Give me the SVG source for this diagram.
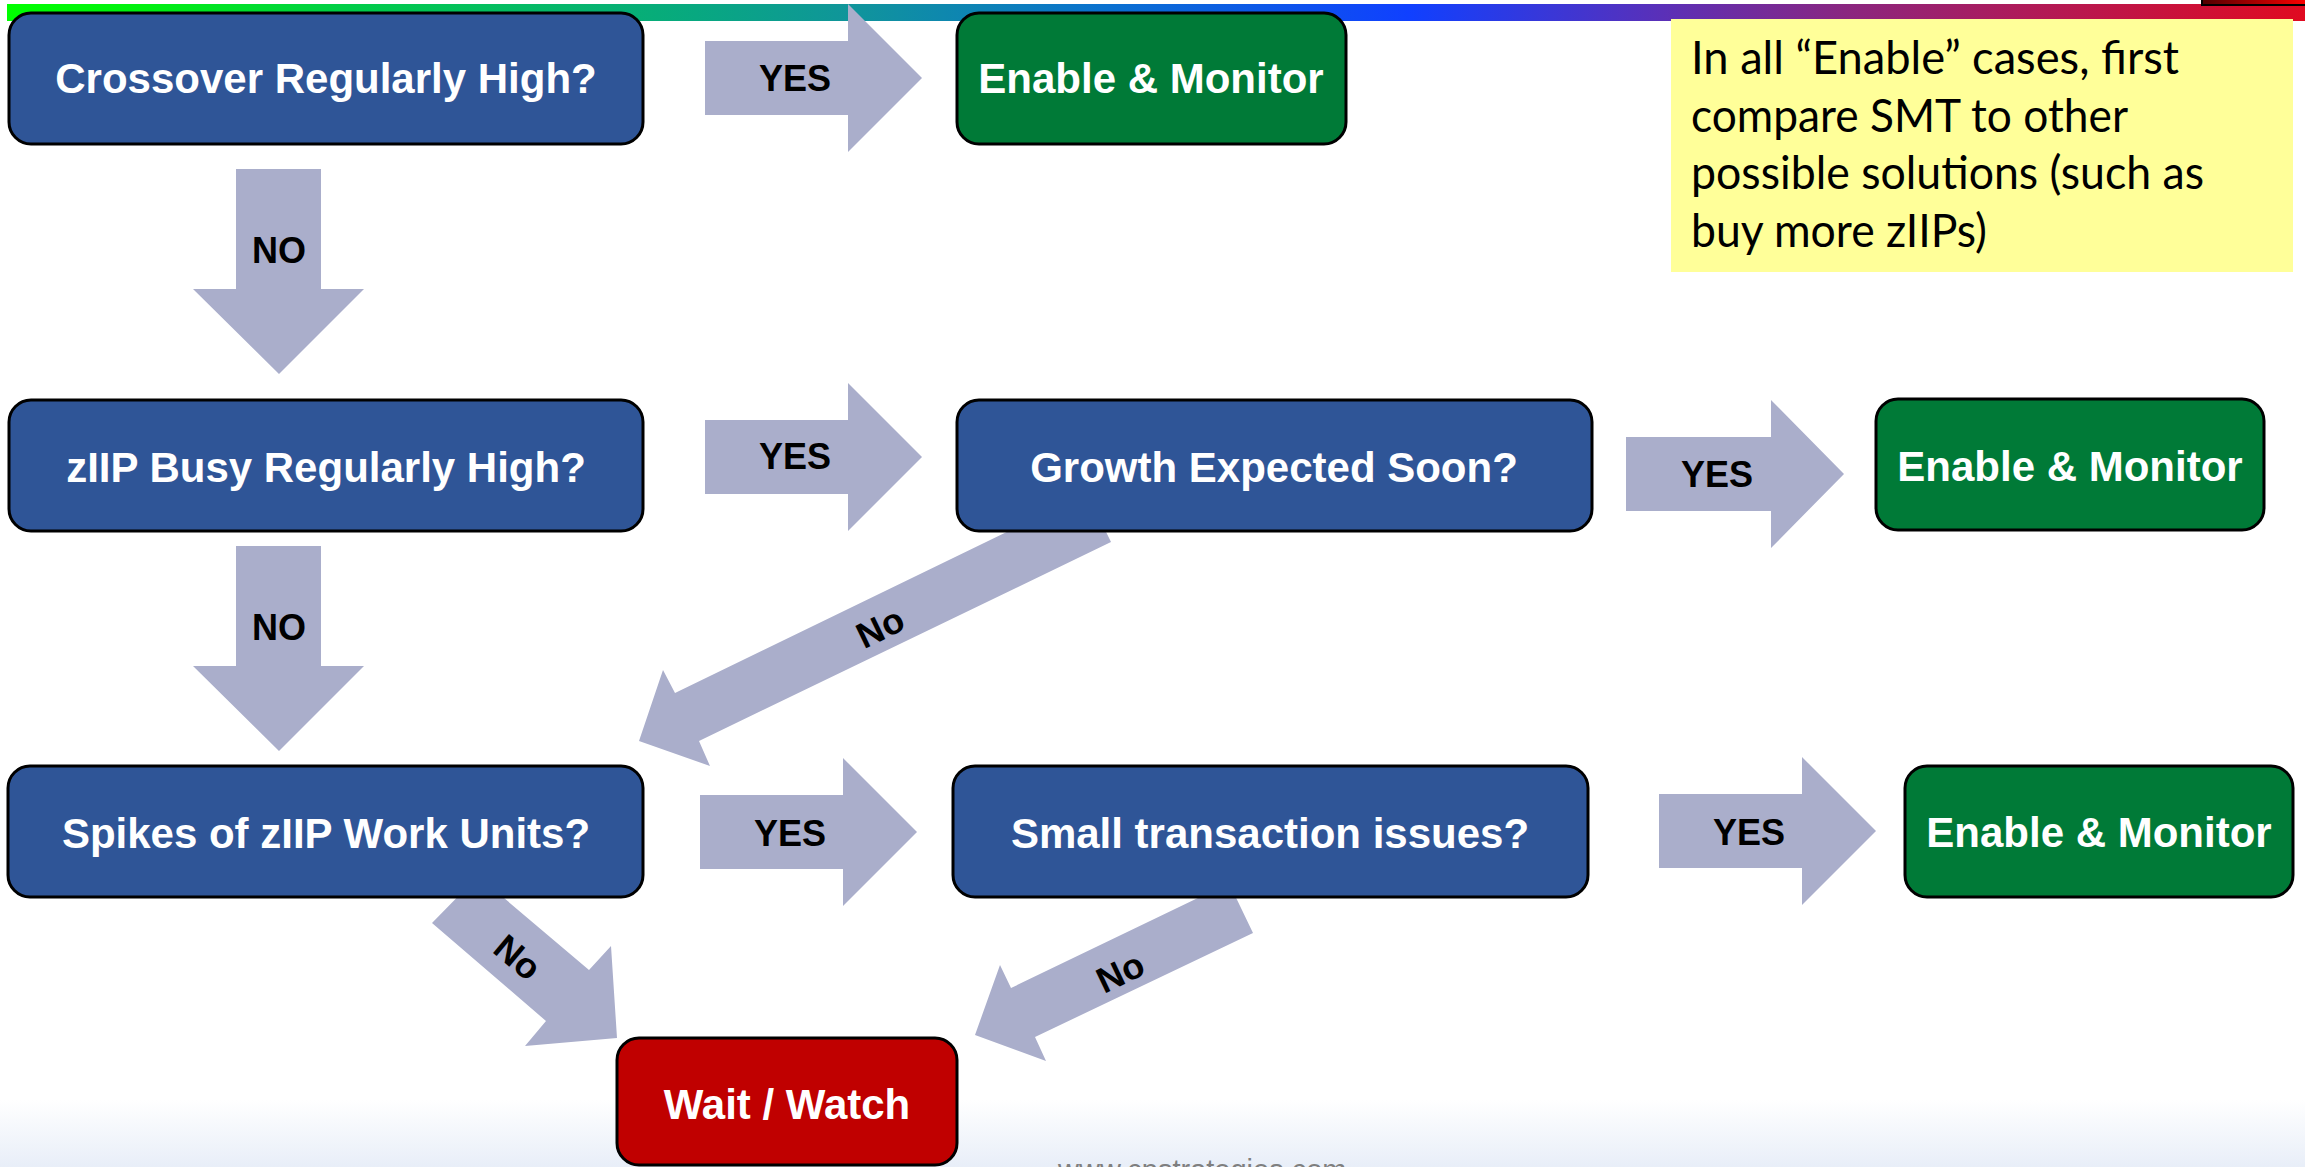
<svg xmlns="http://www.w3.org/2000/svg" width="2305" height="1167" viewBox="0 0 2305 1167">
<defs>
<linearGradient id="topbar" x1="0" y1="0" x2="1" y2="0">
<stop offset="0" stop-color="#00ff00"/>
<stop offset="0.06" stop-color="#00f010"/>
<stop offset="0.15" stop-color="#00cc48"/>
<stop offset="0.30" stop-color="#08a880"/>
<stop offset="0.37" stop-color="#10949c"/>
<stop offset="0.48" stop-color="#0a70d0"/>
<stop offset="0.61" stop-color="#1040ff"/>
<stop offset="0.72" stop-color="#5a30b8"/>
<stop offset="0.80" stop-color="#8a2680"/>
<stop offset="0.88" stop-color="#b01a58"/>
<stop offset="1" stop-color="#e00a20"/>
</linearGradient>
<linearGradient id="cornerRed" x1="0" y1="0" x2="1" y2="0">
<stop offset="0" stop-color="#500000"/>
<stop offset="1" stop-color="#ff0000"/>
</linearGradient>
<linearGradient id="bottomFade" x1="0" y1="0" x2="0" y2="1">
<stop offset="0" stop-color="#ffffff"/>
<stop offset="1" stop-color="#e8eef8"/>
</linearGradient>
<style>
.q{fill:#2f5597;stroke:#000;stroke-width:3}
.en{fill:#007a37;stroke:#000;stroke-width:3}
.ww{fill:#c00000;stroke:#000;stroke-width:3}
.arr{fill:#aaaecb}
.t{font-family:"Liberation Sans",Arial,sans-serif;font-weight:bold;font-size:42px;fill:#ffffff;text-anchor:middle}
.lab{font-family:"Liberation Sans",Arial,sans-serif;font-weight:bold;font-size:36px;fill:#000000;text-anchor:middle}
.note{font-family:Lato,"Open Sans",sans-serif;font-size:46px;fill:#000000}
.url{font-family:"Liberation Sans",Arial,sans-serif;font-size:29px;fill:#7f7f7f}
</style>
</defs>
<rect x="0" y="0" width="2305" height="1167" fill="#ffffff"/>
<rect x="0" y="1100" width="2305" height="67" fill="url(#bottomFade)"/>
<text class="url" x="1058" y="1180">www.cpstrategies.com</text>
<rect x="7" y="4" width="2298" height="17" fill="url(#topbar)"/>
<rect x="2202" y="-3" width="106" height="8" fill="url(#cornerRed)" stroke="#000" stroke-width="2"/>

<g id="connectors">
<polygon class="arr" points="705,41 848,41 848,4 922,78 848,152 848,115 705,115"/>
<text class="lab" x="795" y="91">YES</text>
<polygon class="arr" points="236,169 321,169 321,289 364,289 279,374 193,289 236,289"/>
<text class="lab" x="279" y="263">NO</text>
<polygon class="arr" points="705,420 848,420 848,383 922,457 848,531 848,494 705,494"/>
<text class="lab" x="795" y="469">YES</text>
<polygon class="arr" points="1626,437 1771,437 1771,400 1844,474 1771,548 1771,511 1626,511"/>
<text class="lab" x="1717" y="487">YES</text>
<polygon class="arr" points="236,546 321,546 321,666 364,666 279,751 193,666 236,666"/>
<text class="lab" x="279" y="640">NO</text>
<polygon class="arr" points="1087,493 1111,542 699,741 710,766 639,741 663,670 675,693"/>
<text class="lab" transform="translate(880,627) rotate(-25.8)" x="0" y="13">No</text>
<polygon class="arr" points="700,795 843,795 843,758 917,832 843,906 843,869 700,869"/>
<text class="lab" x="790" y="846">YES</text>
<polygon class="arr" points="1659,794 1802,794 1802,757 1876,831 1802,905 1802,868 1659,868"/>
<text class="lab" x="1749" y="845">YES</text>
<polygon class="arr" points="432,923 546,1021 525,1046 617,1038 611,946 589,970 478,876"/>
<text class="lab" transform="translate(518,957) rotate(40)" x="0" y="13">No</text>
<polygon class="arr" points="1229,883 1253,933 1035,1037 1046,1061 975,1035 1000,965 1011,988"/>
<text class="lab" transform="translate(1120,972) rotate(-25.5)" x="0" y="13">No</text>
</g>

<g id="crossover">
<rect class="q" x="9" y="13" width="634" height="131" rx="22"/>
<text class="t" x="326" y="93">Crossover Regularly High?</text>
</g>
<g id="enable1">
<rect class="en" x="957" y="13" width="389" height="131" rx="22"/>
<text class="t" x="1151" y="93">Enable &amp; Monitor</text>
</g>
<g id="note">
<rect x="1671" y="19" width="622" height="253" fill="#ffff99"/>
<text class="note" x="1691" y="74" textLength="488" lengthAdjust="spacingAndGlyphs">In all “Enable” cases, first</text>
<text class="note" x="1691" y="132" textLength="437" lengthAdjust="spacingAndGlyphs">compare SMT to other</text>
<text class="note" x="1691" y="189" textLength="513" lengthAdjust="spacingAndGlyphs">possible solutions (such as</text>
<text class="note" x="1691" y="247" textLength="296" lengthAdjust="spacingAndGlyphs">buy more zIIPs)</text>
</g>
<g id="ziip-busy">
<rect class="q" x="9" y="400" width="634" height="131" rx="22"/>
<text class="t" x="326" y="482">zIIP Busy Regularly High?</text>
</g>
<g id="growth">
<rect class="q" x="957" y="400" width="635" height="131" rx="22"/>
<text class="t" x="1274" y="482">Growth Expected Soon?</text>
</g>
<g id="enable2">
<rect class="en" x="1876" y="399" width="388" height="131" rx="22"/>
<text class="t" x="2070" y="481">Enable &amp; Monitor</text>
</g>
<g id="spikes">
<rect class="q" x="8" y="766" width="635" height="131" rx="22"/>
<text class="t" x="326" y="848">Spikes of zIIP Work Units?</text>
</g>
<g id="small-tx">
<rect class="q" x="953" y="766" width="635" height="131" rx="22"/>
<text class="t" x="1270" y="848">Small transaction issues?</text>
</g>
<g id="enable3">
<rect class="en" x="1905" y="766" width="388" height="131" rx="22"/>
<text class="t" x="2099" y="847">Enable &amp; Monitor</text>
</g>
<g id="wait-watch">
<rect class="ww" x="617" y="1038" width="340" height="127" rx="22"/>
<text class="t" x="787" y="1119">Wait / Watch</text>
</g>
</svg>
